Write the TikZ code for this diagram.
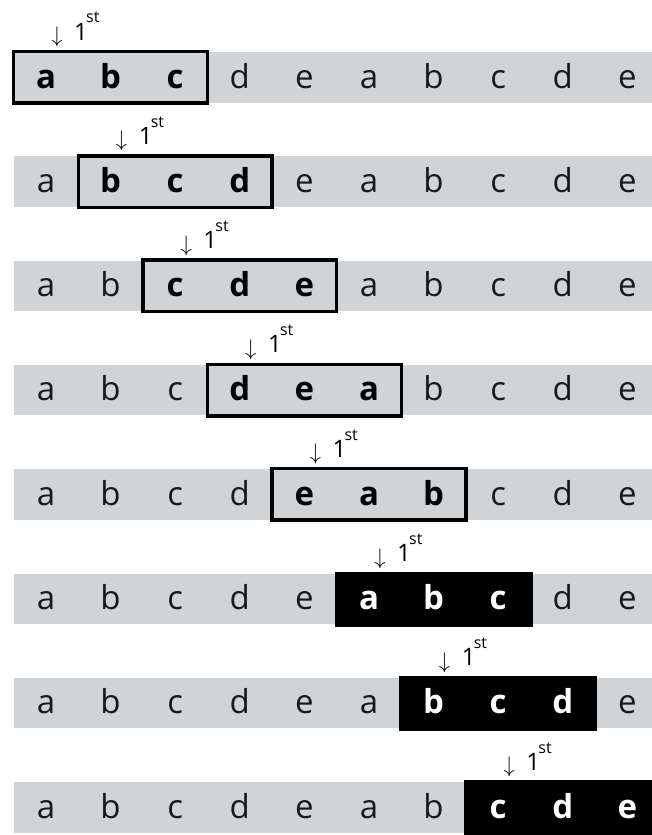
\documentclass[tikz,border=0pt]{standalone}
\usepackage{fontspec}
\setmainfont{Open Sans}
\definecolor{bargray}{RGB}{208,212,214}
\definecolor{ink}{RGB}{25,25,25}
\begin{document}
\begin{tikzpicture}[x=1pt,y=-1pt,
  letter/.style={font=\fontsize{33}{33}\selectfont, anchor=base, inner sep=0pt, text=ink},
  boldletter/.style={letter, font=\fontsize{33}{33}\selectfont\bfseries, text=black},
  whiteletter/.style={letter, font=\fontsize{33}{33}\selectfont\bfseries, text=white},
  arrowlbl/.style={inner sep=0pt, anchor=center},
  ordnum/.style={font=\fontsize{24}{24}\selectfont, inner sep=0pt, anchor=base west},
  ordsup/.style={font=\fontsize{16}{16}\selectfont, inner sep=0pt, anchor=base west},
  outlinebox/.style={draw=black, line width=3.5pt},
  solidbox/.style={fill=black}]
\useasboundingbox (0,0) rectangle (652,835);
\clip (0,0) rectangle (652,835);
\foreach \r in {0,...,7} {
  \pgfmathsetmacro\ytop{52+104.3*\r}
  \pgfmathsetmacro\ybot{\ytop+50.5}
  \pgfmathsetmacro\ybase{\ytop+36}
  \pgfmathsetmacro\bxl{13.7+64.6*\r}
  \pgfmathsetmacro\bxr{\bxl+193.8}
  \pgfmathsetmacro\acx{46+64.6*\r+11}
  \fill[bargray] (13.7,\ytop) rectangle (652,\ybot);
  \ifnum\r<5
    \draw[outlinebox] (\bxl,\ytop-0.5) rectangle (\bxr,\ybot+0.5);
  \else
    \fill[solidbox] (\bxl-2,\ytop-2) rectangle (\bxr+2,\ybot+3);
  \fi
  \node[arrowlbl] (arr\r) at (\acx,\ytop-15) {\resizebox*{!}{20pt}{$\downarrow$}};
  \node[ordnum] (num\r) at (\acx+17,\ytop-12) {1};
  \node[ordsup] (sup\r) at (\acx+29,\ytop-29) {st};
  \foreach \ch [count=\i from 0] in {a,b,c,d,e,a,b,c,d,e} {
    \pgfmathsetmacro\cx{46+64.6*\i}
    \pgfmathtruncatemacro\inbox{(\i>=\r)&&(\i<=\r+2)}
    \ifnum\inbox=1
      \ifnum\r<5
        \node[boldletter] (L\r-\i) at (\cx,\ybase) {\ch};
      \else
        \node[whiteletter] (L\r-\i) at (\cx,\ybase) {\ch};
      \fi
    \else
      \node[letter] (L\r-\i) at (\cx,\ybase) {\ch};
    \fi
  }
}
\end{tikzpicture}
\end{document}
